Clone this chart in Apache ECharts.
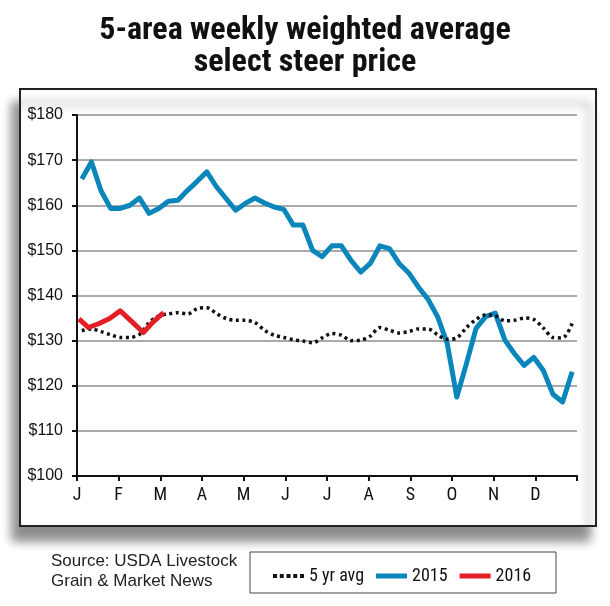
<!DOCTYPE html>
<html><head><meta charset="utf-8">
<script src="https://cdn.jsdelivr.net/npm/echarts@6/dist/echarts.min.js"></script>
<style>html,body{margin:0;padding:0;background:#fff}#c{width:610px;height:606px}</style>
</head><body><div id="c"></div>
<script>
// ---- data ----
var monthLabels = ['J','F','M','A','M','J','J','A','S','O','N','D'];
var yTicks = [100,110,120,130,140,150,160,170,180];
var weeks2015 = [];
for (var w = 1; w <= 52; w++) weeks2015.push(w);
var avg5yr = [132.2,132.6,132.0,131.3,130.7,130.7,131.4,134.0,135.5,135.9,
              136.2,135.9,137.1,137.3,136.0,134.9,134.5,134.5,134.0,132.3,
              131.2,130.7,130.2,129.9,129.5,130.6,131.6,131.2,130.0,130.1,
              131.0,132.9,132.3,131.7,132.0,132.6,132.6,131.3,130.3,130.6,
              132.9,134.7,135.7,135.5,134.4,134.5,135.0,134.7,132.8,130.7,
              130.6,133.8];
var price2015 = [165.8,169.6,163.2,159.3,159.3,160.0,161.6,158.2,159.3,160.9,
                 161.1,163.3,165.3,167.4,164.1,161.5,158.9,160.4,161.6,160.5,
                 159.6,159.1,155.6,155.6,150.0,148.6,151.0,151.0,147.8,145.2,
                 147.1,151.0,150.4,147.1,145.0,141.9,139.2,135.3,129.4,117.5,
                 124.9,132.7,135.3,136.1,130.1,127.1,124.5,126.3,123.4,118.1,
                 116.4,123.1];
var weeks2016 = [0.7,1.7,2.8,3.9,5.0,6.2,7.4,8.4,9.5];
var price2016 = [134.8,132.9,133.8,134.9,136.6,134.2,131.8,134.1,136.2];

function toMonth(week){ return (week - 0.5) * 12 / 52; }
function pairs(ws, vs){ return vs.map(function(v,i){ return [toMonth(ws[i]), v]; }); }

var chart = echarts.init(document.getElementById('c'), null, {renderer:'canvas'});
var narrow = "'Roboto Condensed','Noto Sans Condensed','DejaVu Sans Condensed',sans-serif";
var regular = "'Liberation Sans',Arial,sans-serif";
var dotsIcon = 'path://M0,0h4v4h-4z M6.75,0h4v4h-4z M13.5,0h4v4h-4z M20.25,0h4v4h-4z M27,0h4v4h-4z';
chart.setOption({
  animation:false,
  backgroundColor:'#fff',
  title:{
    text:'5-area weekly weighted average\nselect steer price',
    left:'center', top:10,
    textStyle:{fontFamily:narrow, fontWeight:'bold', fontSize:32, lineHeight:32, color:'#111'}
  },
  graphic:[
    {type:'rect', z:-1, shape:{x:20,y:89,width:576,height:437},
     style:{fill:'#fff', stroke:'#222', lineWidth:2, shadowBlur:10, shadowColor:'rgba(0,0,0,0.45)', shadowOffsetX:-7, shadowOffsetY:14}},
    {type:'rect', z:-1, shape:{x:250,y:552,width:306,height:41},
     style:{fill:'#fff', stroke:'#444', lineWidth:1}},
    {type:'text', left:51, top:551, style:{text:'Source: USDA Livestock\nGrain & Market News', fontFamily:regular, fontSize:17, lineHeight:20, fill:'#222'}}
  ],
  grid:{left:77, right:33, top:115, bottom:130, containLabel:false},
  legend:{
    left:268, top:562, itemWidth:31, itemHeight:5, itemGap:12,
    textStyle:{fontFamily:narrow, fontSize:18, color:'#111'},
    data:[{name:'5 yr avg', icon:dotsIcon, textStyle:{width:56}},
          {name:'2015', icon:'rect', textStyle:{width:41}},
          {name:'2016', icon:'rect'}]
  },
  xAxis:{
    type:'value', min:0, max:12, interval:1,
    axisLine:{show:true, onZero:false, lineStyle:{color:'#111', width:2}},
    axisTick:{show:true, length:5, lineStyle:{color:'#111', width:2}},
    axisLabel:{margin:10, fontFamily:narrow, fontSize:18, color:'#111',
      formatter:function(v){ return monthLabels[Math.round(v)] || ''; }},
    splitLine:{show:false}
  },
  yAxis:{
    type:'value', min:yTicks[0], max:yTicks[yTicks.length-1], interval:10,
    axisLine:{show:true, lineStyle:{color:'#111', width:2}},
    axisTick:{show:true, length:5, lineStyle:{color:'#111', width:2}},
    axisLabel:{margin:14, fontFamily:regular, fontSize:16, color:'#111',
      formatter:function(v){ return '$' + v; }},
    splitLine:{show:true, lineStyle:{color:'#aaa', width:2}}
  },
  series:[
    {name:'5 yr avg', type:'line', data:pairs(weeks2015, avg5yr), symbol:'none', smooth:0.3,
     lineStyle:{color:'#111', width:3.5, type:[3,3.5]}, itemStyle:{color:'#111'}, z:3},
    {name:'2015', type:'line', data:pairs(weeks2015, price2015), symbol:'none',
     lineStyle:{color:'#0a86bb', width:5, join:'round'}, itemStyle:{color:'#0a86bb'}, z:2},
    {name:'2016', type:'line', data:pairs(weeks2016, price2016), symbol:'none',
     lineStyle:{color:'#e31e26', width:5, join:'round'}, itemStyle:{color:'#e31e26'}, z:4}
  ]
});
</script></body></html>
